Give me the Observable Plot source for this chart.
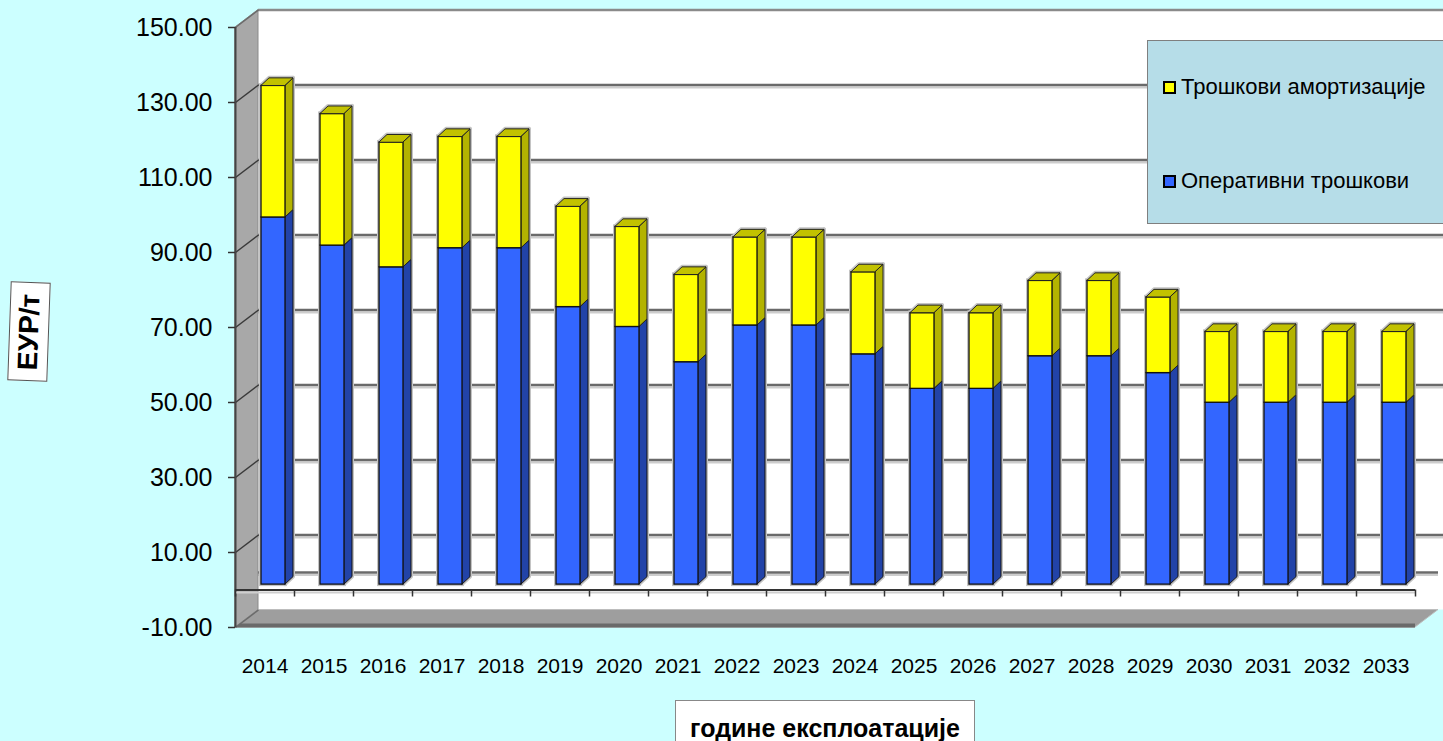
<!DOCTYPE html>
<html>
<head>
<meta charset="utf-8">
<script src="https://cdn.jsdelivr.net/npm/d3@7"></script>
<script src="https://cdn.jsdelivr.net/npm/@observablehq/plot@0.6"></script>
<style>
  html, body { margin: 0; padding: 0; background: #CCFFFF; overflow: hidden; }
  #wrap { position: relative; width: 1443px; height: 741px; overflow: hidden;
          font-family: "Liberation Sans", Arial, sans-serif; }
  #chart svg { display: block; }
  #legend { position: absolute; left: 1147px; top: 40px; width: 320px; height: 182px;
            background: #B6DDE8; border: 1.5px solid #7f7f7f; }
  .item { position: absolute; left: 15px; height: 26px; display: flex; align-items: center;
          font-size: 22px; color: #000; white-space: nowrap; }
  .sw { width: 9px; height: 9px; border: 2px solid #000; margin-right: 5px; flex: none; }
  #ylab { position: absolute; left: 9px; top: 282px; width: 38px; height: 97px; background: #fff;
          border: 1px solid #555; transform: rotate(2deg); display: flex; align-items: center;
          justify-content: center; }
  #ylab span { transform: rotate(-90deg); font-weight: bold; font-size: 28px; white-space: nowrap; }
  #xlab { position: absolute; left: 675px; top: 700px; width: 300px; height: 60px; background: #fff;
          border: 1px solid #888; text-align: center; font-weight: bold; font-size: 25px;
          line-height: 25px; padding-top: 15px; box-sizing: border-box; white-space: nowrap; }
</style>
</head>
<body>
<div id="wrap">
  <div id="chart"></div>
  <div id="legend"></div>
  <div id="ylab"><span></span></div>
  <div id="xlab"></div>
</div>
<script>
// ---- data ----
const years = [2014, 2015, 2016, 2017, 2018, 2019, 2020, 2021, 2022, 2023,
               2024, 2025, 2026, 2027, 2028, 2029, 2030, 2031, 2032, 2033];
const operating = [97.9, 90.4, 84.6, 89.7, 89.7, 74.0, 68.7, 59.3, 69.1, 69.1,
                   61.4, 52.2, 52.2, 60.9, 60.9, 56.4, 48.5, 48.5, 48.5, 48.5];
const depreciation = [35.1, 35.1, 33.3, 29.7, 29.7, 26.8, 26.7, 23.3, 23.5, 23.5,
                      21.9, 20.2, 20.2, 20.1, 20.1, 20.2, 18.9, 18.9, 18.9, 18.9];
const yTicks = [-10, 10, 30, 50, 70, 90, 110, 130, 150];
const seriesNames = ["Трошкови амортизације", "Оперативни трошкови"];
const yTitle = "ЕУР/т";
const xTitle = "године експлоатације";

// ---- layout ----
const W = 1443, H = 741, ML = 235, MR = 28, MT = 27, MB = 114;
const x0 = years[0] - 0.5, x1 = years[years.length - 1] + 0.5;
const y0 = yTicks[0], y1 = yTicks[yTicks.length - 1];
const kx = (x1 - x0) / (W - ML - MR), ky = (y1 - y0) / (H - MT - MB);
const ux = p => p * kx, uy = p => p * ky;
const BX = ux(23), BY = uy(17.5);          // depth of the back wall
const FL = ux(26), FR = ux(50), FS = uy(5.4); // bar front face inside its category
const DX = ux(8), DY = uy(7.5);            // bar depth

const colors = {
  blueFront: "#3366FF", blueSide: "#2243A8",
  yelFront: "#FFFF00", yelSide: "#B3B300", yelTop: "#C2C200"
};

// segments
const segs = [];
years.forEach((yr, i) => {
  segs.push({id: "b" + yr, s: "op", year: yr, lo: 0, hi: operating[i]});
  segs.push({id: "y" + yr, s: "dep", year: yr, lo: operating[i], hi: operating[i] + depreciation[i]});
});
const L = d => d.year - 0.5 + FL, R = d => d.year - 0.5 + FR;
const side = s => segs.filter(d => d.s === s).flatMap(d => [
  {id: d.id, x: R(d), b: d.lo + FS, t: d.hi + FS},
  {id: d.id, x: R(d) + DX, b: d.lo + FS + DY, t: d.hi + FS + DY}
]);
const tops = segs.filter(d => d.s === "dep").flatMap(d => [
  {id: d.id, y: d.hi + FS, l: L(d), r: R(d)},
  {id: d.id, y: d.hi + FS + DY, l: L(d) + DX, r: R(d) + DX}
]);
const grid = yTicks.slice(1, -1);
const bounds = [x0, ...years.map(y => y + 0.5)];
const xEnd = x1 + BX + ux(12);

const plot = Plot.plot({
  width: W, height: H,
  marginLeft: ML, marginRight: MR, marginTop: MT, marginBottom: MB,
  style: {background: "transparent", fontFamily: "'Liberation Sans', Arial, sans-serif", color: "#000"},
  x: {domain: [x0, x1], axis: null},
  y: {domain: [y0, y1], axis: null},
  marks: [
    // back wall
    Plot.rect([0], {x1: x0 + BX, x2: xEnd, y1: y0 + BY, y2: y1 + BY, fill: "#fff"}),
    // gridlines on back wall (shadow + line)
    Plot.ruleY(grid, {y: d => d + BY, x1: x0 + BX, x2: xEnd, stroke: "#cdcdcd", strokeWidth: 2, dy: 2.5}),
    Plot.ruleY(grid, {y: d => d + BY, x1: x0 + BX, x2: xEnd, stroke: "#6a6a6a", strokeWidth: 2.5}),
    Plot.ruleY([y1], {y: d => d + BY, x1: x0 + BX, x2: xEnd, stroke: "#8a8a8a", strokeWidth: 2.5}),
    // zero plane back edge
    Plot.ruleY([0], {y: d => d + BY, x1: x0 + BX, x2: x1 + BX, stroke: "#cdcdcd", strokeWidth: 2, dy: 2.5}),
    Plot.ruleY([0], {y: d => d + BY, x1: x0 + BX, x2: x1 + BX, stroke: "#6a6a6a", strokeWidth: 2.5}),
    // floor
    Plot.area([{y: y0, l: x0, r: x1}, {y: y0 + BY, l: x0 + BX, r: x1 + BX}],
      {x1: "l", x2: "r", y1: "y", fill: "#9e9e9e", stroke: "#bdbdbd", strokeWidth: 1}),
    Plot.ruleY([y0], {x1: x0, x2: x1, stroke: "#6a6a6a", strokeWidth: 4, dy: -2}),
    // left wall
    Plot.area([{x: x0, b: y0, t: y1}, {x: x0 + BX, b: y0 + BY, t: y1 + BY}],
      {x1: "x", y1: "b", y2: "t", fill: "#a8a8a8", stroke: "#8a8a8a", strokeWidth: 1}),
    Plot.link(grid, {x1: x0, y1: d => d, x2: x0 + BX, y2: d => d + BY, stroke: "#3a3a3a", strokeWidth: 1.5}),
    Plot.link([y0, y1], {x1: x0, y1: d => d, x2: x0 + BX, y2: d => d + BY, stroke: "#6a6a6a", strokeWidth: 1.5}),
    // value axis line
    Plot.ruleX([x0], {y1: y0, y2: y1, stroke: "#444", strokeWidth: 2}),
    // category axis line at 0 with ticks
    Plot.ruleY([0], {x1: x0, x2: x1, stroke: "#cfcfcf", strokeWidth: 2, dy: 2.5}),
    Plot.ruleY([0], {x1: x0, x2: x1, stroke: "#333", strokeWidth: 2}),
    Plot.ruleX(bounds, {y1: 0, y2: -uy(7), stroke: "#333", strokeWidth: 1.5}),
    // soft grey halo around the bars
    Plot.area([...side("op"), ...side("dep")], {x1: "x", y1: "b", y2: "t", z: "id", fill: "none", stroke: "#c4c4c4", strokeWidth: 4}),
    Plot.rect(segs, {x1: L, x2: R, y1: d => d.lo + FS, y2: d => d.hi + FS, fill: "none", stroke: "#c4c4c4", strokeWidth: 4}),
    Plot.area(tops, {x1: "l", x2: "r", y1: "y", z: "id", fill: "none", stroke: "#c4c4c4", strokeWidth: 4}),
    // bars: side faces
    Plot.area(side("op"), {x1: "x", y1: "b", y2: "t", z: "id", fill: colors.blueSide, stroke: "#111", strokeWidth: 1}),
    Plot.area(side("dep"), {x1: "x", y1: "b", y2: "t", z: "id", fill: colors.yelSide, stroke: "#222", strokeWidth: 1}),
    // bars: front faces
    Plot.rect(segs.filter(d => d.s === "op"), {x1: L, x2: R, y1: d => d.lo + FS, y2: d => d.hi + FS,
      fill: colors.blueFront, stroke: "#111", strokeWidth: 1.3}),
    Plot.rect(segs.filter(d => d.s === "dep"), {x1: L, x2: R, y1: d => d.lo + FS, y2: d => d.hi + FS,
      fill: colors.yelFront, stroke: "#111", strokeWidth: 1.3}),
    // bars: top faces
    Plot.area(tops, {x1: "l", x2: "r", y1: "y", z: "id", fill: colors.yelTop, stroke: "#222", strokeWidth: 1}),
    // axes
    Plot.axisY({ticks: yTicks, tickFormat: d => d.toFixed(2), tickSize: 7, tickPadding: 16,
      fontSize: 25, stroke: "#333", strokeWidth: 1.5}),
    Plot.axisX({ticks: years, tickFormat: d => String(d), tickSize: 0, tickPadding: 31, fontSize: 21})
  ]
});
document.getElementById("chart").appendChild(plot);

// legend
const legend = document.getElementById("legend");
[[seriesNames[0], colors.yelFront, 86], [seriesNames[1], colors.blueFront, 180]].forEach(([name, c, cy]) => {
  const it = document.createElement("div");
  it.className = "item";
  it.style.top = (cy - 40 - 13) + "px";
  const sw = document.createElement("span");
  sw.className = "sw";
  sw.style.background = c;
  const tx = document.createElement("span");
  tx.textContent = name;
  it.append(sw, tx);
  legend.appendChild(it);
});
document.querySelector("#ylab span").textContent = yTitle;
document.getElementById("xlab").textContent = xTitle;
</script>
</body>
</html>
